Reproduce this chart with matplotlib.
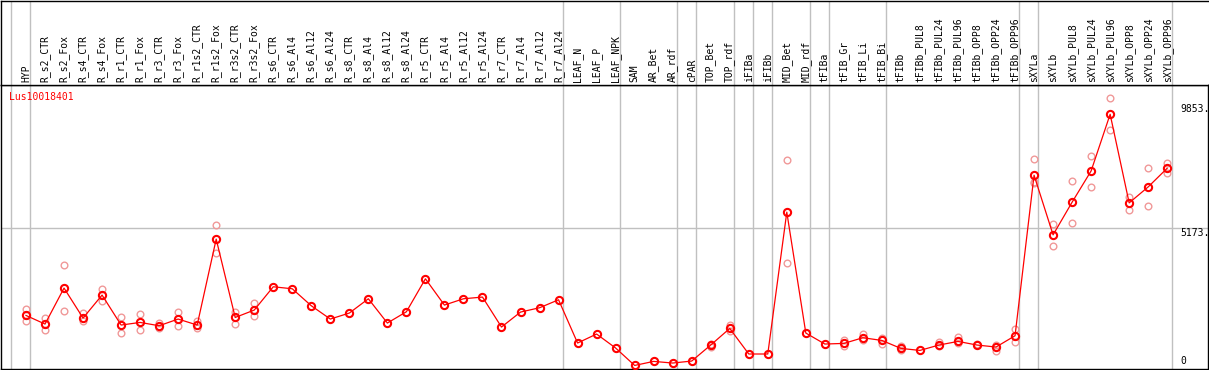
import numpy as np
import matplotlib
matplotlib.use("Agg")
from matplotlib import pyplot as plt

# categorias (muestras)
muestras = ["HYP", "R_s2_CTR", "R_s2_Fox", "R_s4_CTR", "R_s4_Fox", "R_r1_CTR", "R_r1_Fox",
            "R_r3_CTR", "R_r3_Fox", "R_r1s2_CTR", "R_r1s2_Fox", "R_r3s2_CTR", "R_r3s2_Fox",
            "R_s6_CTR", "R_s6_Al4", "R_s6_Al12", "R_s6_Al24", "R_s8_CTR", "R_s8_Al4",
            "R_s8_Al12", "R_s8_Al24", "R_r5_CTR", "R_r5_Al4", "R_r5_Al12", "R_r5_Al24",
            "R_r7_CTR", "R_r7_Al4", "R_r7_Al12", "R_r7_Al24", "LEAF_N", "LEAF_P", "LEAF_NPK",
            "SAM", "AR_Bet", "AR_rdf", "cPAR", "TOP_Bet", "TOP_rdf", "iFIBa", "iFIBb",
            "MID_Bet", "MID_rdf", "tFIBa", "tFIB_Gr", "tFIB_Li", "tFIB_Bi", "tFIBb",
            "tFIBb_PUL8", "tFIBb_PUL24", "tFIBb_PUL96", "tFIBb_OPP8", "tFIBb_OPP24",
            "tFIBb_OPP96", "sXYLa", "sXYLb", "sXYLb_PUL8", "sXYLb_PUL24", "sXYLb_PUL96",
            "sXYLb_OPP8", "sXYLb_OPP24", "sXYLb_OPP96"]

# media de expresion
media = [1890, 1566, 2919, 1792, 2656, 1529, 1627, 1503, 1754, 1529, 4760, 1814, 2092,
         2968, 2893, 2254, 1754, 1980, 2517, 1604, 2029, 3268, 2280, 2517, 2581,
         1454, 2017, 2179, 2479, 853, 1191, 665,
         10, 162, 100, 175, 777, 1401, 440, 440,
         5774, 1228, 815, 838, 1052, 950, 650,
         575, 777, 913, 777, 702, 1127,
         7164, 4921, 6149, 7325, 9455, 6123, 6724, 7427]

# replicas (None = tapada por la media)
rep1 = [2141, 1803, 3783, 1965, 2893, 1841, 1942, 1589, 2017, 1664, 5285, 2002, 2355,
        None, None, None, None, None, None, None, None, None, None, None, None,
        None, None, None, None, None, None, None,
        None, None, None, None, 802, 1540, None, None,
        7727, None, None, 950, 1176, 1026, 725,
        None, 875, 1063, 815, 789, 1379,
        7765, 5323, 6950, 7877, 10056, 6337, 7427, 7626]
rep2 = [1664, 1326, 2055, 1679, 2415, 1213, 1341, 1416, 1491, 1401, 4234, 1578, 1852,
        None, None, None, None, None, None, None, None, None, None, None, None,
        None, None, None, None, None, None, None,
        None, None, None, None, 714, 1289, None, None,
        3858, None, None, 725, 950, 815, 575,
        None, 725, 853, None, 537, 875,
        6923, 4497, 5361, 6713, 8866, 5849, 6011, 7239]
rep3 = [None] * 53 + [6863] + [None] * 7

# separadores de grupos (despues de la muestra k)
separadores = [-1, 0, 28, 31, 34, 35, 37, 38, 39, 41, 42, 45, 52, 53, 60]

# etiquetas del eje derecho
marcas = [9853, 5173, 0]

W, H = 1209, 370
fig = plt.figure(figsize=(W / 100, H / 100), dpi=100)
ax = fig.add_axes([1 / W, 1 / H, 1207 / W, 284 / H])
axh = fig.add_axes([1 / W, 285 / H, 1207 / W, 84 / H], sharex=ax)

x = np.arange(len(muestras))
def arr(v):
    return np.array([np.nan if a is None else a for a in v], dtype=float)

gris = "#c0c0c0"
for k in separadores:
    ax.axvline(k + 0.23, color=gris, lw=1.0, zorder=1)
    axh.axvline(k + 0.23, color=gris, lw=1.0, zorder=1)
ax.axhline(5173, color=gris, lw=1.0, zorder=1)

for r in (rep1, rep2, rep3):
    ax.plot(x, arr(r), ls="none", marker="o", ms=4.8, mfc="none", mec="#f09898", mew=1.0, zorder=2)
ax.plot(x, media, color="red", lw=0.9, marker="o", ms=5.2, mfc="none", mec="red", mew=1.5, zorder=3)

ax.set_xlim(-1.314, 62.145)
ax.set_ylim(-124, 10556)
ax.set_xticks([])
ax.set_yticks([])
axh.set_yticks([])
axh.set_ylim(0, 1)
for sp in ax.spines.values():
    sp.set_linewidth(1.0)
for sp in axh.spines.values():
    sp.set_linewidth(1.0)
axh.spines["right"].set_visible(False)

fuente = dict(family="DejaVu Sans Mono", fontsize=7)
for i, m in enumerate(muestras):
    axh.text(i, 0.03, m, rotation=90, ha="center", va="bottom", **fuente)

ax.text(-0.88, 10100, "Lus10018401", color="red", ha="left", va="center", **fuente)
for v in marcas:
    ax.text(60.68, v, "0" if v == 0 else "%d." % v, ha="left",
            va="bottom" if v == 0 else "top", **fuente)

fig.savefig("out.png", dpi=100)
